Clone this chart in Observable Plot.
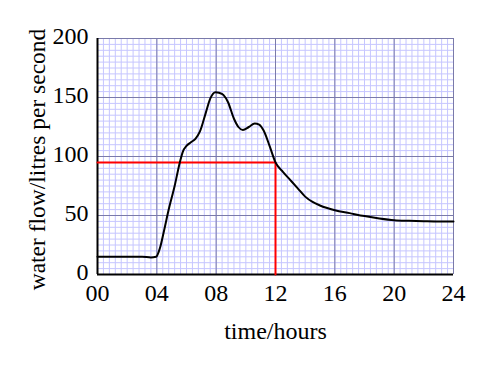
<!DOCTYPE html>
<html>
<head>
<meta charset="utf-8">
<script src="https://cdn.jsdelivr.net/npm/d3@7"></script>
<script src="https://cdn.jsdelivr.net/npm/@observablehq/plot@0.6"></script>
<style>
  html, body { margin: 0; padding: 0; background: white; }
</style>
</head>
<body>
<div id="chart"></div>
<script>
// time in hours
const hours = [0, 1, 2, 3, 3.6, 3.95, 4.2, 4.5, 4.8, 5.2, 5.55, 5.75, 6.0, 6.3, 6.6, 6.9, 7.3, 7.6, 7.95, 8.2, 8.5, 8.8, 9.2, 9.5, 9.8, 10.2, 10.6, 10.9, 11.2, 11.6, 12, 12.5, 13, 13.5, 14, 14.5, 15, 16, 17, 18, 19, 20, 21, 22, 23, 24];
// water flow in litres per second
const flow  = [15, 15, 15, 15, 14.5, 15, 22, 38, 55, 75, 95, 104, 109, 112, 115, 121, 137, 149, 154.5, 154, 152, 146, 132, 125, 122.5, 125, 128, 127, 122, 109, 95, 87, 80, 73, 66, 61.5, 58.5, 54.5, 52, 49.5, 47.5, 46, 45.5, 45.2, 45, 45];

const xTicks = [0, 4, 8, 12, 16, 20, 24];
const xTickLabels = ["00", "04", "08", "12", "16", "20", "24"];
const yTicks = [0, 50, 100, 150, 200];

const markTime = 12;
const markFlow = 95;

const data = hours.map((h, i) => ({hour: h, flow: flow[i]}));
const minorX = d3.range(0, 24.001, 0.4);
const minorY = d3.range(0, 200.001, 5);
const redPath = [{hour: 0, flow: markFlow}, {hour: markTime, flow: markFlow}, {hour: markTime, flow: 0}];

const chart = Plot.plot({
  width: 501,
  height: 366,
  marginLeft: 97,
  marginRight: 48,
  marginTop: 38,
  marginBottom: 92,
  style: {fontFamily: "'Liberation Serif', 'Times New Roman', serif", fontSize: "24px", background: "white", color: "black"},
  x: {domain: [0, 24], axis: null},
  y: {domain: [0, 200], axis: null},
  marks: [
    Plot.ruleX(minorX, {stroke: "#c6c6ff", strokeWidth: 1}),
    Plot.ruleY(minorY, {stroke: "#c6c6ff", strokeWidth: 1}),
    Plot.ruleX(xTicks, {stroke: "#7a7aaa", strokeWidth: 1}),
    Plot.ruleY(yTicks, {stroke: "#7a7aaa", strokeWidth: 1}),
    Plot.ruleX([0], {stroke: "black", strokeWidth: 2}),
    Plot.ruleY([0], {stroke: "black", strokeWidth: 2}),
    Plot.line(redPath, {x: "hour", y: "flow", stroke: "red", strokeWidth: 2}),
    Plot.line(data, {x: "hour", y: "flow", stroke: "black", strokeWidth: 2, curve: "monotone-x"}),
    Plot.text(xTicks, {x: d => d, frameAnchor: "bottom", lineAnchor: "middle", text: (d, i) => xTickLabels[i], dy: 19, fontSize: 24, fill: "black"}),
    Plot.text(yTicks, {y: d => d, frameAnchor: "left", lineAnchor: "middle", textAnchor: "end", text: d => String(d), dx: -9, dy: -2, fontSize: 24, fill: "black"}),
    Plot.text(["time/hours"], {text: d => d, frameAnchor: "bottom", lineAnchor: "middle", dy: 57, fontSize: 24, fill: "black"}),
    Plot.text(["water flow/litres per second"], {text: d => d, frameAnchor: "left", lineAnchor: "middle", textAnchor: "middle", rotate: -90, dx: -60, dy: 3, fontSize: 23.5, fill: "black"})
  ]
});
document.getElementById("chart").append(chart);
</script>
</body>
</html>
